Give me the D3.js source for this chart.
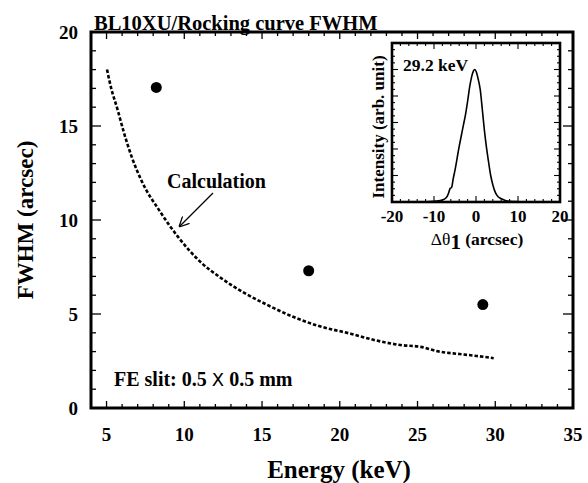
<!DOCTYPE html>
<html><head><meta charset="utf-8">
<script src="https://cdn.jsdelivr.net/npm/d3@7"></script>
<style>
body{margin:0;background:#fff;}
text{font-family:"Liberation Serif","Times New Roman",serif;font-weight:bold;fill:#000;}
</style></head>
<body><svg id="c" width="588" height="483"></svg>
<script>
// ---- data ----
const calcEnergy = [5.03,5.3,5.7,6.1,6.6,7.3,8.4,9.6,11.0,12.3,13.8,15.3,17.0,18.5,20.7,22.3,23.9,25.2,26.4,27.7,28.8,29.9];
const calcFWHM   = [18.0,17.0,15.9,14.7,13.4,12.0,10.5,9.1,7.8,6.95,6.15,5.5,4.85,4.4,3.95,3.6,3.35,3.25,3.0,2.87,2.77,2.65];
const measEnergy = [8.2,18.0,29.2];
const measFWHM   = [17.05,7.3,5.5];
const xTicks = [5,10,15,20,25,30,35];
const yTicks = [0,5,10,15,20];
const rcAngle = [-20,-14,-10,-8,-7,-6.5,-6.2,-5.8,-5.4,-5,-4.5,-4,-3.5,-3,-2.5,-2,-1.5,-1,-0.6,-0.3,0.1,0.5,1.0,1.5,2.0,2.5,3.0,3.5,4.0,4.5,5.0,6,7,8,10,12,20];
const rcInt   = [0,0,0.005,0.015,0.035,0.07,0.1,0.11,0.18,0.24,0.33,0.42,0.5,0.58,0.66,0.76,0.87,0.95,0.99,1.0,0.98,0.93,0.85,0.7,0.54,0.41,0.3,0.2,0.13,0.08,0.05,0.025,0.012,0.006,0.002,0,0];
const insetTicks = [-20,-10,0,10,20];

const svg = d3.select("#c");
const L=91,R=573,T=32,B=408;
const x = d3.scaleLinear().domain([4,35]).range([L,R]);
const y = d3.scaleLinear().domain([0,20]).range([B,T]);

// minor/major ticks inside on all sides
const g = svg.append("g").attr("stroke","#000").attr("stroke-width",1.3);
d3.range(5,35,1).forEach(v=>{
  const len = v%5===0?7:4;
  g.append("line").attr("x1",x(v)).attr("x2",x(v)).attr("y1",B).attr("y2",B-len);
  g.append("line").attr("x1",x(v)).attr("x2",x(v)).attr("y1",T).attr("y2",T+len);
});
d3.range(1,20,1).forEach(v=>{
  const len = v%5===0?10:5;
  g.append("line").attr("y1",y(v)).attr("y2",y(v)).attr("x1",L).attr("x2",L+len);
  g.append("line").attr("y1",y(v)).attr("y2",y(v)).attr("x1",R).attr("x2",R-len);
});
svg.append("rect").attr("x",L).attr("y",T).attr("width",R-L).attr("height",B-T)
  .attr("fill","none").attr("stroke","#000").attr("stroke-width",3);

// tick labels
svg.selectAll(".xl").data(xTicks).enter().append("text")
  .attr("x",d=>x(d)).attr("y",441).attr("text-anchor","middle").attr("font-size",19).text(d=>d);
svg.selectAll(".yl").data(yTicks).enter().append("text")
  .attr("x",78).attr("y",d=>y(d)+7).attr("text-anchor","end").attr("font-size",19).text(d=>d);

// axis titles
svg.append("text").attr("x",339).attr("y",478).attr("text-anchor","middle").attr("font-size",25).text("Energy (keV)");
svg.append("text").attr("transform","translate(33,220) rotate(-90)").attr("text-anchor","middle").attr("font-size",23).text("FWHM (arcsec)");
svg.append("text").attr("x",94).attr("y",30).attr("font-size",20.5).text("BL10XU/Rocking curve FWHM");

// calculation curve
const line = d3.line().x(d=>x(d[0])).y(d=>y(d[1])).curve(d3.curveMonotoneX);
svg.append("path").datum(calcEnergy.map((e,i)=>[e,calcFWHM[i]]))
  .attr("d",line).attr("fill","none").attr("stroke","#000").attr("stroke-width",2.6)
  .attr("stroke-dasharray","3.5,2");

// measured points
svg.selectAll(".pt").data(measEnergy.map((e,i)=>[e,measFWHM[i]])).enter().append("circle")
  .attr("cx",d=>x(d[0])).attr("cy",d=>y(d[1])).attr("r",5.5).attr("fill","#000");

// annotation
svg.append("text").attr("x",167).attr("y",188).attr("font-size",20).text("Calculation");
svg.append("defs").append("marker").attr("id","ah").attr("viewBox","0 0 10 10").attr("refX",10).attr("refY",5)
  .attr("markerWidth",10).attr("markerHeight",10).attr("markerUnits","userSpaceOnUse").attr("orient","auto")
  .append("path").attr("d","M0,0 L10,5 L0,10").attr("fill","none").attr("stroke","#000").attr("stroke-width",1.3);
svg.append("line").attr("x1",213).attr("y1",193).attr("x2",179).attr("y2",227)
  .attr("stroke","#000").attr("stroke-width",1.3).attr("marker-end","url(#ah)");

const fe = svg.append("text").attr("x",114).attr("y",386).attr("font-size",20);
fe.append("tspan").text("FE slit: 0.5 ");
fe.append("tspan").attr("font-family","DejaVu Sans").attr("font-weight","normal").attr("font-size",18).text("X");
fe.append("tspan").text(" 0.5 mm");

// ---- inset ----
const iL=392,iR=560,iT=43,iB=202;
const ix = d3.scaleLinear().domain([-20,20]).range([iL,iR]);
const iy = d3.scaleLinear().domain([0,1.2]).range([iB,iT]);
const gi = svg.append("g").attr("stroke","#000").attr("stroke-width",1.1);
d3.range(-18,20,2).forEach(v=>{
  const len = v%10===0?6:3;
  gi.append("line").attr("x1",ix(v)).attr("x2",ix(v)).attr("y1",iB).attr("y2",iB-len);
  gi.append("line").attr("x1",ix(v)).attr("x2",ix(v)).attr("y1",iT).attr("y2",iT+len);
});
d3.range(1,24,1).forEach(k=>{
  const v=k*0.05; const len = k%4===0?6:3;
  gi.append("line").attr("y1",iy(v)).attr("y2",iy(v)).attr("x1",iL).attr("x2",iL+len);
  gi.append("line").attr("y1",iy(v)).attr("y2",iy(v)).attr("x1",iR).attr("x2",iR-len);
});
svg.append("rect").attr("x",iL).attr("y",iT).attr("width",iR-iL).attr("height",iB-iT)
  .attr("fill","none").attr("stroke","#000").attr("stroke-width",2.6);
const iline = d3.line().x(d=>ix(d[0])).y(d=>iy(d[1])).curve(d3.curveMonotoneX);
svg.append("path").datum(rcAngle.map((a,i)=>[a,rcInt[i]]))
  .attr("d",iline).attr("fill","none").attr("stroke","#000").attr("stroke-width",1.6);
svg.selectAll(".il").data(insetTicks).enter().append("text")
  .attr("x",d=>ix(d)).attr("y",222).attr("text-anchor","middle").attr("font-size",17).text(d=>d);
svg.append("text").attr("x",403).attr("y",71).attr("font-size",17.5).text("29.2 keV");
svg.append("text").attr("transform","translate(384,127) rotate(-90)").attr("text-anchor","middle").attr("font-size",17).text("Intensity (arb. unit)");
const dl = svg.append("text").attr("x",477).attr("y",245).attr("text-anchor","middle").attr("font-size",17.5);
dl.append("tspan").attr("font-weight","normal").text("Δθ");
dl.append("tspan").attr("dy",4).attr("font-size",21).text("1");
dl.append("tspan").attr("dy",-4).text(" (arcsec)");
</script></body></html>
